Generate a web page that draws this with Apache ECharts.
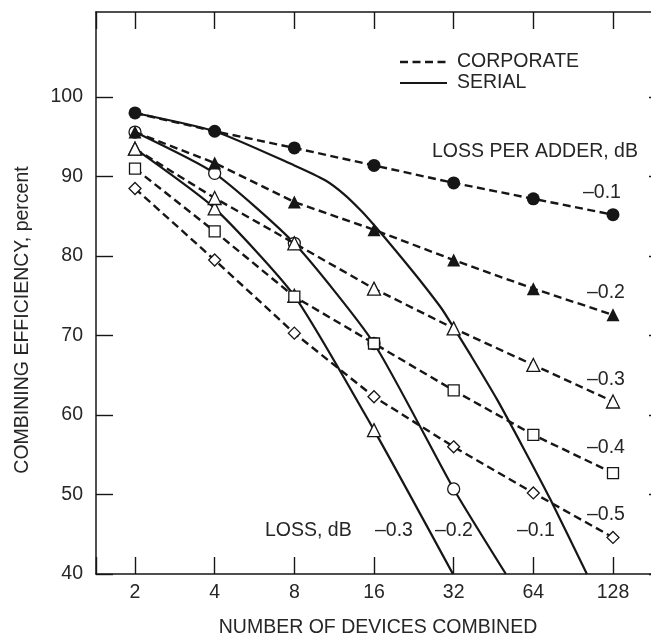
<!DOCTYPE html>
<html>
<head>
<meta charset="utf-8">
<title>Combining efficiency vs number of devices</title>
<script src="https://cdn.jsdelivr.net/npm/echarts@6/dist/echarts.min.js"></script>
<style>
  html, body { margin: 0; padding: 0; background: #ffffff; }
  #chart { width: 651px; height: 638px; }
</style>
</head>
<body>
<div id="chart"></div>
<script>
// Number of devices combined (x values of the corporate curves)
const devices = [2, 4, 8, 16, 32, 64, 128];

// Corporate combiner efficiency, percent, for each loss per adder
const corporate01 = [98.0, 95.7, 93.6, 91.4, 89.2, 87.2, 85.2];
const corporate02 = [95.6, 91.7, 86.8, 83.3, 79.5, 75.9, 72.6];
const corporate03 = [93.5, 87.3, 81.6, 75.9, 70.9, 66.3, 61.7];
const corporate04 = [91.0, 83.1, 74.9, 69.0, 63.1, 57.5, 52.7];
const corporate05 = [88.5, 79.5, 70.3, 62.3, 56.0, 50.2, 44.6];

// Serial combiner curves (device count, efficiency)
const serial01Devices = [2, 4, 8, 10.5, 12.4, 14.4, 16, 19.2, 23.4, 28.8, 32, 37.3, 46.6, 58.8, 74.2, 102];
const serial01 = [98.0, 95.7, 91.4, 89.5, 87.7, 85.6, 83.9, 80.8, 77.3, 73.4, 71.0, 67.4, 62.0, 55.8, 49.4, 40.0];
const serial02Devices = [2, 4, 8, 16, 32, 50.4];
const serial02 = [95.6, 90.4, 81.6, 69.0, 50.7, 40.0];
const serial03Devices = [2, 4, 8, 16, 31.8];
const serial03 = [93.5, 86.0, 75.0, 58.1, 40.0];

// Axis ticks
const xTicks = [2, 4, 8, 16, 32, 64, 128];
const yTicks = [40, 50, 60, 70, 80, 90, 100];

// Texts
const lossPerAdder = ['\u20130.1', '\u20130.2', '\u20130.3', '\u20130.4', '\u20130.5'];
const serialLoss = ['\u20130.3', '\u20130.2', '\u20130.1'];

const INK = '#161616';
const TEXT = '#262626';
const FONT_FAMILY = '"Liberation Sans", Arial, Helvetica, sans-serif';
const FS = 19.5;
const FONT = FS + 'px ' + FONT_FAMILY;

const X_MIN = 1.4245;
const X_MAX = 203.0;
const Y_MIN = 40;
const Y_MAX = 110.7;

const chart = echarts.init(document.getElementById('chart'), null, { renderer: 'canvas' });

function pairs(xs, ys) {
  return xs.map((x, i) => [x, ys[i]]);
}

const isTickValue = (v) => xTicks.some((t) => Math.abs(t - v) < 1e-6 * t);

function corporate(values, symbol, filled, size) {
  return {
    type: 'line',
    data: pairs(devices, values),
    symbol: symbol,
    symbolSize: size,
    showSymbol: true,
    lineStyle: { color: INK, width: 2.4, type: [8, 4.5] },
    itemStyle: { color: filled ? INK : '#ffffff', borderColor: INK, borderWidth: filled ? 0 : 1.3 },
    z: 3,
    silent: true
  };
}

function serial(xs, ys, symbol, size) {
  const data = xs.map((x, i) => {
    const item = { value: [x, ys[i]] };
    if (!symbol || !xTicks.includes(x)) item.symbol = 'none';
    return item;
  });
  return {
    type: 'line',
    data: data,
    smooth: 0.2,
    symbol: symbol || 'none',
    symbolSize: size,
    showSymbol: !!symbol,
    lineStyle: { color: INK, width: 2.2, type: 'solid' },
    itemStyle: { color: '#ffffff', borderColor: INK, borderWidth: 1.3 },
    z: 2,
    silent: true
  };
}

function textEl(str, x, y, align, extra) {
  return Object.assign({
    type: 'text',
    x: x,
    y: y,
    silent: true,
    style: {
      text: str,
      fill: TEXT,
      font: FONT,
      align: align || 'left',
      verticalAlign: 'middle'
    }
  }, extra || {});
}

const xAxisBase = {
  type: 'log',
  logBase: 2,
  min: X_MIN,
  max: X_MAX,
  axisLine: { show: true, lineStyle: { color: INK, width: 1.5 } },
  axisTick: { show: true, inside: true, length: 17, lineStyle: { color: INK, width: 1.4 } },
  splitLine: { show: false },
  minorTick: { show: false },
  minorSplitLine: { show: false }
};

const yAxisBase = {
  type: 'value',
  min: Y_MIN,
  max: Y_MAX,
  interval: 10,
  axisLine: { show: true, lineStyle: { color: INK, width: 1.5 } },
  axisTick: { show: true, inside: true, length: 17, customValues: yTicks, lineStyle: { color: INK, width: 1.4 } },
  splitLine: { show: false }
};

const option = {
  backgroundColor: '#ffffff',
  animation: false,
  grid: {
    left: 96,
    top: 12,
    width: 570,
    height: 562,
    containLabel: false,
    outerBoundsMode: 'none'
  },
  xAxis: [
    Object.assign({}, xAxisBase, {
      position: 'bottom',
      axisLabel: {
        show: true,
        color: TEXT,
        fontSize: FS,
        fontFamily: FONT_FAMILY,
        margin: 9,
        showMinLabel: true,
        showMaxLabel: true,
        hideOverlap: false,
        formatter: (v) => (isTickValue(v) ? String(Math.round(v)) : '')
      }
    }),
    Object.assign({}, xAxisBase, {
      position: 'top',
      axisLabel: { show: false }
    })
  ],
  yAxis: [
    Object.assign({}, yAxisBase, {
      position: 'left',
      axisLabel: {
        show: true,
        customValues: yTicks,
        color: TEXT,
        fontSize: FS,
        fontFamily: FONT_FAMILY,
        margin: 13
      }
    }),
    Object.assign({}, yAxisBase, {
      position: 'right',
      axisLabel: { show: false }
    })
  ],
  series: [
    serial(serial01Devices, serial01, null, 0),
    serial(serial02Devices, serial02, 'circle', 12),
    serial(serial03Devices, serial03, 'triangle', 13),
    corporate(corporate01, 'circle', true, 13),
    corporate(corporate02, 'triangle', true, 13),
    corporate(corporate03, 'triangle', false, 13),
    corporate(corporate04, 'rect', false, 11),
    corporate(corporate05, 'diamond', false, 12)
  ],
  graphic: [
    // line-style key
    { type: 'line', silent: true, shape: { x1: 400, y1: 62, x2: 448, y2: 62 },
      style: { stroke: INK, lineWidth: 2.4, lineDash: [8, 4.5] } },
    textEl('CORPORATE', 457, 62),
    { type: 'line', silent: true, shape: { x1: 400, y1: 83, x2: 447, y2: 83 },
      style: { stroke: INK, lineWidth: 2.2 } },
    textEl('SERIAL', 457, 83),

    // corporate curve annotations
    textEl('LOSS PER ADDER, dB', 432, 152),
    textEl(lossPerAdder[0], 583, 193),
    textEl(lossPerAdder[1], 587, 293),
    textEl(lossPerAdder[2], 587, 380),
    textEl(lossPerAdder[3], 587, 448),
    textEl(lossPerAdder[4], 587, 515),

    // serial curve annotations
    textEl('LOSS, dB', 265, 531),
    textEl(serialLoss[0], 375, 531),
    textEl(serialLoss[1], 435, 531),
    textEl(serialLoss[2], 517, 531),

    // axis titles
    textEl('NUMBER OF DEVICES COMBINED', 378, 628, 'center'),
    textEl('COMBINING EFFICIENCY, percent', 23, 320, 'center', { rotation: Math.PI / 2 })
  ]
};

chart.setOption(option);
</script>
</body>
</html>
